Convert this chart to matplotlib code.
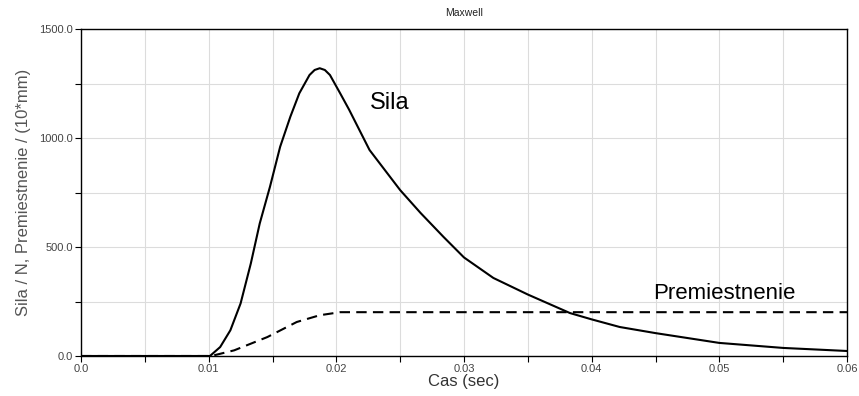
import matplotlib
matplotlib.use("Agg")
import matplotlib.pyplot as plt
from matplotlib.ticker import MultipleLocator

plt.rcParams['font.family'] = ['Liberation Sans', 'DejaVu Sans']

# values
cas_sila = [0.0, 0.0101, 0.0109, 0.0117, 0.0125, 0.0133, 0.0140, 0.0148, 0.0156,
            0.0164, 0.0171, 0.0179, 0.0183, 0.0187, 0.0191, 0.0195, 0.0203, 0.0210,
            0.0226, 0.0250, 0.0266, 0.0284, 0.0300, 0.0323, 0.0350, 0.0383, 0.0400,
            0.0422, 0.0450, 0.0500, 0.0550, 0.0600]
sila = [0, 0, 41, 118, 241, 424, 608, 776, 960,
        1098, 1205, 1289, 1312, 1320, 1312, 1289, 1205, 1130,
        945, 761, 656, 546, 452, 358, 282, 197, 168,
        133, 105, 60, 37, 23]

cas_prem = [0.0, 0.0102, 0.0120, 0.0146, 0.0169, 0.0187, 0.0203, 0.0600]
premiestnenie = [0, 0, 26, 87, 156, 187, 201, 201]

xticks = [0.0, 0.01, 0.02, 0.03, 0.04, 0.05, 0.06]
xlabels = ["0.0", "0.01", "0.02", "0.03", "0.04", "0.05", "0.06"]
yticks = [0, 500, 1000, 1500]
ylabels = ["0.0", "500.0", "1000.0", "1500.0"]

fig = plt.figure(figsize=(8.59, 3.96), dpi=100)
ax = fig.add_axes([81/859, 1 - 356/396, (847-81)/859, (356-29)/396])

ax.plot(cas_sila, sila, color="black", lw=1.5, zorder=3)
ax.plot(cas_prem, premiestnenie, color="black", lw=1.5, dashes=(5, 3), zorder=3)

ax.set_xlim(0, 0.06)
ax.set_ylim(0, 1500)
ax.set_xticks(xticks)
ax.set_xticklabels(xlabels)
ax.set_yticks(yticks)
ax.set_yticklabels(ylabels)
ax.xaxis.set_minor_locator(MultipleLocator(0.005))
ax.yaxis.set_minor_locator(MultipleLocator(250))
ax.grid(which="both", color="#dcdcdc", lw=0.8, zorder=0)
ax.set_axisbelow(True)
ax.tick_params(which="both", direction="out", length=4, width=0.8, colors="black",
               labelcolor="#444444", labelsize=8, pad=2)
for s in ax.spines.values():
    s.set_linewidth(1.0)

ax.set_title("Maxwell", fontsize=7.5, color="#222222", pad=9)
ax.set_xlabel("Cas (sec)", fontsize=12, color="#333333", labelpad=0)
ax.set_ylabel("Sila / N, Premiestnenie / (10*mm)", fontsize=12, color="#555555", labelpad=6)

ax.text(0.0226, 1160, "Sila", fontsize=17, color="black", ha="left", va="center")
ax.text(0.0448, 285, "Premiestnenie", fontsize=16, color="black", ha="left", va="center")

fig.savefig("out.png", dpi=100)
